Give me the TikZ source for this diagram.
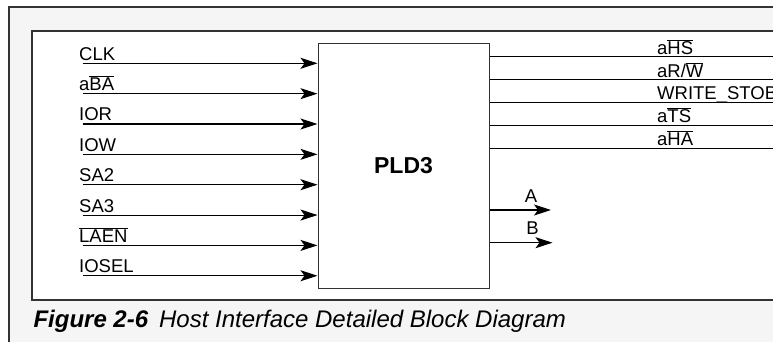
\documentclass[tikz,border=0pt]{standalone}
\usepackage{fontspec}
\setmainfont{Liberation Sans}
\usetikzlibrary{arrows.meta,positioning,calc}
\newcommand{\ovl}[1]{$\overline{\mbox{#1}}$}
\definecolor{framegray}{HTML}{F5F5F5}
\definecolor{linegray}{HTML}{333333}

\begin{document}
\begin{tikzpicture}[x=1pt,y=-1pt,
    sig/.style={line width=1.1pt, -{Stealth[length=17pt,width=11pt,inset=4pt]}},
    outline/.style={line width=1pt},
    lbl/.style={anchor=base west, inner sep=0pt, font=\fontsize{18.5}{21}\selectfont}]
    \useasboundingbox (0,0) rectangle (773,342);

    % Outer frame
    \draw[line width=1.2pt, draw=linegray, fill=framegray] (9,7) rectangle (790,360);

    % Inner frame
    \draw[line width=1.1pt, draw=linegray, fill=white] (32,31) rectangle (790,300);

    % PLD3 block
    \node[draw=linegray, line width=1pt, minimum width=171pt, minimum height=244pt,
          inner sep=0pt, font=\fontsize{23}{27}\selectfont\bfseries] (pld) at (403.5,166) {PLD3};

    % Inputs
    \foreach \i/\name in {0/CLK, 1/a\ovl{BA}, 2/IOR, 3/IOW, 4/SA2, 5/SA3, 6/\ovl{LAEN}, 7/IOSEL} {
        \coordinate (in\i) at (82.7, 63.3+30.35*\i);
        \node[lbl] (inl\i) at ($(in\i)+(-3.7,-3)$) {\name};
        \draw[sig] (in\i) -- (in\i -| pld.west);
    }

    % Outputs to the right edge
    \foreach \i/\name in {0/{a\ovl{HS}}, 1/{aR/\ovl{W}}, 2/{WRITE\_STOB}, 3/{a\ovl{TS}}, 4/{a\ovl{HA}}} {
        \coordinate (out\i) at (790, 56.7+22.83*\i);
        \node[lbl] (outl\i) at (657, 54.2+22.83*\i) {\name};
        \draw[outline] (pld.east |- out\i) -- (out\i);
    }

    % A and B outputs
    \coordinate (aend) at (551,210);
    \coordinate (bend) at (552.5,242.7);
    \draw[sig] (pld.east |- aend) -- (aend);
    \draw[sig] (pld.east |- bend) -- (bend);
    \node[lbl, anchor=base] (alab) at (531,202) {A};
    \node[lbl, anchor=base] (blab) at (532.5,234) {B};

    % Caption
    \node[anchor=base west, inner sep=0pt, font=\fontsize{24}{28}\selectfont] (caption) at (33.3,327.3)
        {\textbf{\textit{Figure 2-6}}\hspace{0.45em}\textit{Host Interface Detailed Block Diagram}};
\end{tikzpicture}
\end{document}
